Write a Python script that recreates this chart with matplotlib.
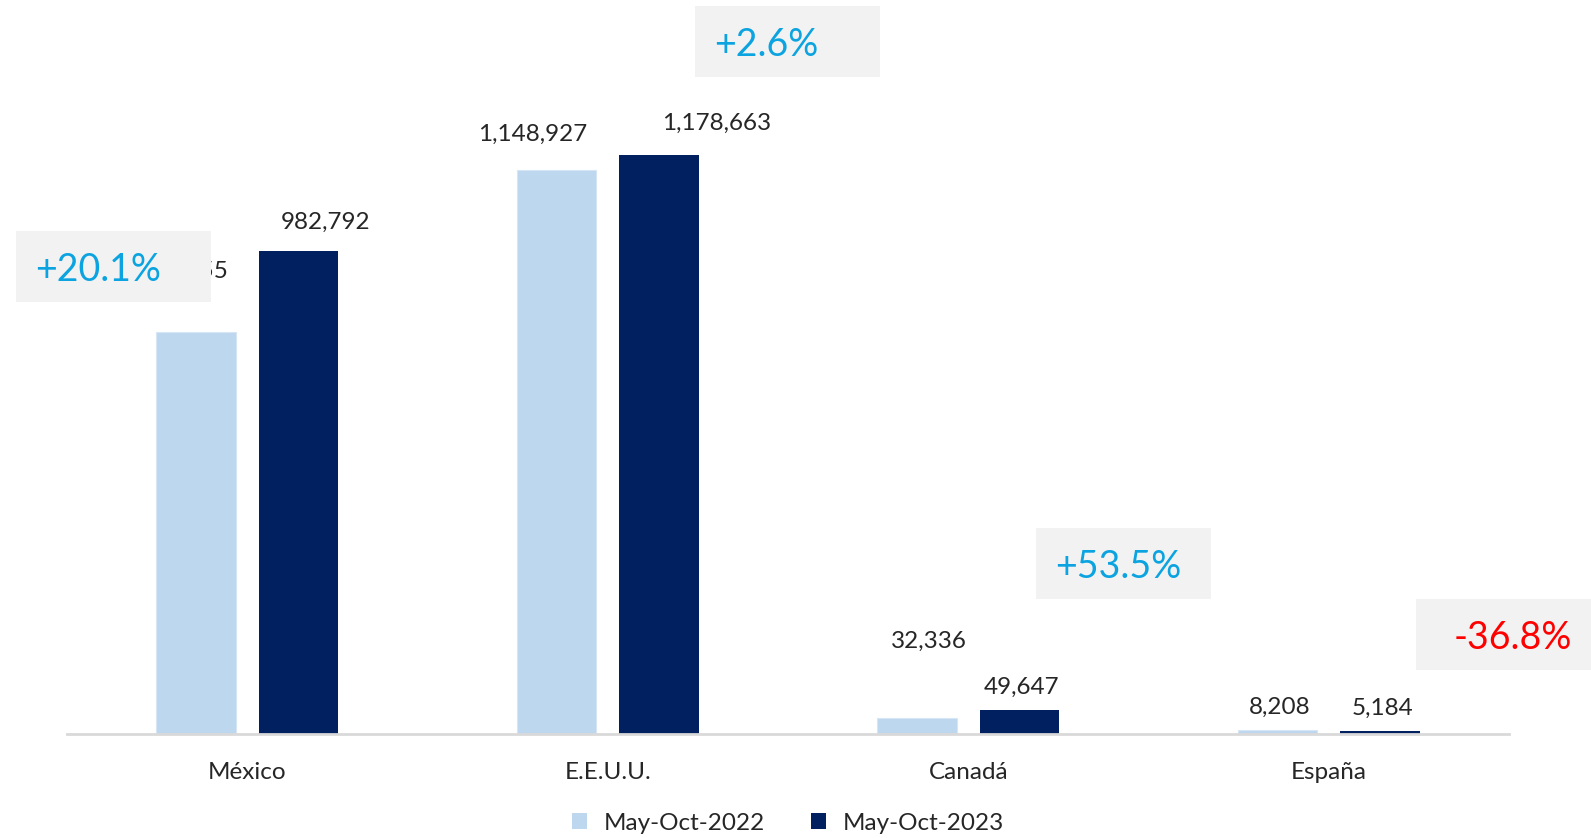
import matplotlib
matplotlib.use("Agg")
import matplotlib.pyplot as plt
from matplotlib.patches import Rectangle, Patch
import numpy as np

# ---- data ----
categories = ["México", "E.E.U.U.", "Canadá", "España"]
series_names = ["May-Oct-2022", "May-Oct-2023"]
values_2022 = [818455, 1148927, 32336, 8208]
values_2023 = [982792, 1178663, 49647, 5184]
pct_labels = ["+20.1%", "+2.6%", "+53.5%", "-36.8%"]

# ---- style ----
plt.rcParams['font.family'] = ['Lato', 'DejaVu Sans']
C_LIGHT = "#BDD7EE"
C_DARK = "#002060"
C_TEXT = "#262626"
C_POS = "#0BA3E0"
C_NEG = "#FF0000"
C_BOX = "#F2F2F2"

W, H = 1591, 838
fig = plt.figure(figsize=(W / 100, H / 100), dpi=100)
ax = fig.add_axes([67 / W, 104 / H, 1442 / W, 734 / H])
ax.set_xlim(-0.5, 3.5)
ax.set_ylim(0, 1495000)

x = np.arange(len(categories))
bw = 0.22
off = 0.142
b1 = ax.bar(x - off, values_2022, bw, color=C_LIGHT, edgecolor="#d6e6f5", linewidth=0.8, zorder=2)
b2 = ax.bar(x + off, values_2023, bw, color=C_DARK, zorder=2)

for s in ["top", "right", "left"]:
    ax.spines[s].set_visible(False)
ax.spines["bottom"].set_color("#D9D9D9")
ax.spines["bottom"].set_linewidth(2)
ax.set_yticks([])
ax.set_xticks(x)
ax.set_xticklabels(categories, fontsize=17.5, color=C_TEXT)
ax.tick_params(axis="x", length=0, pad=20)

# value labels (pixel nudges: dx, dy of baseline above bar top)
nudge_2022 = [(-12, 54), (-24, 29), (12, 70), (2, 16)]
nudge_2023 = [(27, 23), (58, 25), (2, 16), (3, 17)]
for bars, vals, nudges in [(b1, values_2022, nudge_2022), (b2, values_2023, nudge_2023)]:
    for rect, v, (dx, dy) in zip(bars, vals, nudges):
        ax.annotate(f"{v:,}", (rect.get_x() + rect.get_width() / 2, v),
                    xytext=(dx, dy), textcoords="offset pixels",
                    ha="center", va="baseline", fontsize=17.5, color=C_TEXT, zorder=3)

# percentage boxes (figure pixel boxes: x0, y0_top, x1, y1_bottom)
boxes = [(16, 231, 211, 302), (695, 6, 880, 77), (1036, 528, 1211, 599), (1416, 599, 1591, 670)]
text_left = [35, 714, 1055, 1454]
for lab, (x0, y0, x1, y1), tx in zip(pct_labels, boxes, text_left):
    fig.add_artist(Rectangle((x0 / W, 1 - y1 / H), (x1 - x0) / W, (y1 - y0) / H,
                             transform=fig.transFigure, facecolor=C_BOX, edgecolor="none", zorder=5))
    col = C_NEG if lab.startswith("-") else C_POS
    fig.text(tx / W, 1 - (y0 + y1) / 2 / H, lab, ha="left", va="center_baseline",
             fontsize=27, color=col, zorder=6)

handles = [Patch(facecolor=C_LIGHT, edgecolor="none"), Patch(facecolor=C_DARK, edgecolor="none")]
fig.legend(handles, series_names, loc="center", bbox_to_anchor=(788 / W, 1 - 823 / H),
           ncol=2, frameon=False, fontsize=17.5, handlelength=0.62, handleheight=0.62,
           handletextpad=0.67, columnspacing=1.9, labelcolor=C_TEXT)

fig.savefig("out.png", dpi=100)
